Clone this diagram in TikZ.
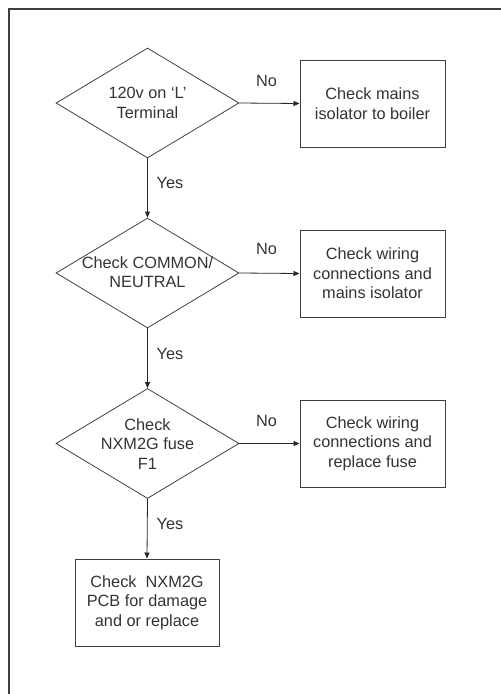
\documentclass[tikz,border=0pt]{standalone}
\usepackage{fontspec}
\setmainfont{Liberation Sans}
\usetikzlibrary{shapes.geometric,arrows.meta}
\begin{document}
\begin{tikzpicture}[x=1pt,y=-1pt,
  every node/.style={font=\fontsize{16.3}{19.5}\selectfont, text=black!80},
  dia/.style={draw=black!75, line width=0.8pt, shape=diamond, inner sep=0pt, minimum width=183pt, minimum height=110pt},
  boxn/.style={draw=black!75, line width=1pt, rectangle, inner sep=0pt, minimum width=145pt, minimum height=87pt, align=center},
  txt/.style={align=center, inner sep=0pt},
  arr/.style={draw=black!85, line width=0.8pt, -{Triangle[length=6pt,width=5pt]}},
  lab/.style={inner sep=0pt}]
\useasboundingbox (0,0) rectangle (501,694);
\draw[black!75, line width=1.2pt] (9,694) -- (9,9) -- (501,9);
% decisions
\node[dia] (d1) at (147.5,103) {};
\node[txt] at (d1) {120v on `L'\\Terminal};
\node[dia] (d2) at (147.5,273) {};
\node[txt] at (147.5,272) {Check COMMON/\\NEUTRAL};
\node[dia] (d3) at (147.5,443.5) {};
\node[txt] at (147.5,444) {Check\\NXM2G fuse\\F1};
% boxes
\node[boxn] (b1) at (372.5,103.5) {Check mains\\isolator to boiler};
\node[boxn] (b2) at (372.5,273.5) {Check wiring\\connections and\\mains isolator};
\node[boxn] (b3) at (372.5,443.5) {Check wiring\\connections and\\replace fuse};
\node[boxn, minimum width=144pt] (b4) at (147,602.5) {Check\ \ NXM2G\\PCB for damage\\and or replace};
% connectors
\draw[arr] (d1.east) -- (b1.west);
\draw[arr] (d2.east) -- (b2.west);
\draw[arr] (d3.east) -- (b3.west);
\draw[arr] (d1.south) -- (d2.north);
\draw[arr] (d2.south) -- (d3.north);
\draw[arr] (d3.south) -- (b4.north);
% labels
\node[lab] (n1) at (266.5,81) {No};
\node[lab] (n2) at (266.5,249) {No};
\node[lab] (n3) at (266.5,421) {No};
\node[lab] (y1) at (170,183) {Yes};
\node[lab] (y2) at (170,354) {Yes};
\node[lab] (y3) at (170,524) {Yes};
\end{tikzpicture}
\end{document}
